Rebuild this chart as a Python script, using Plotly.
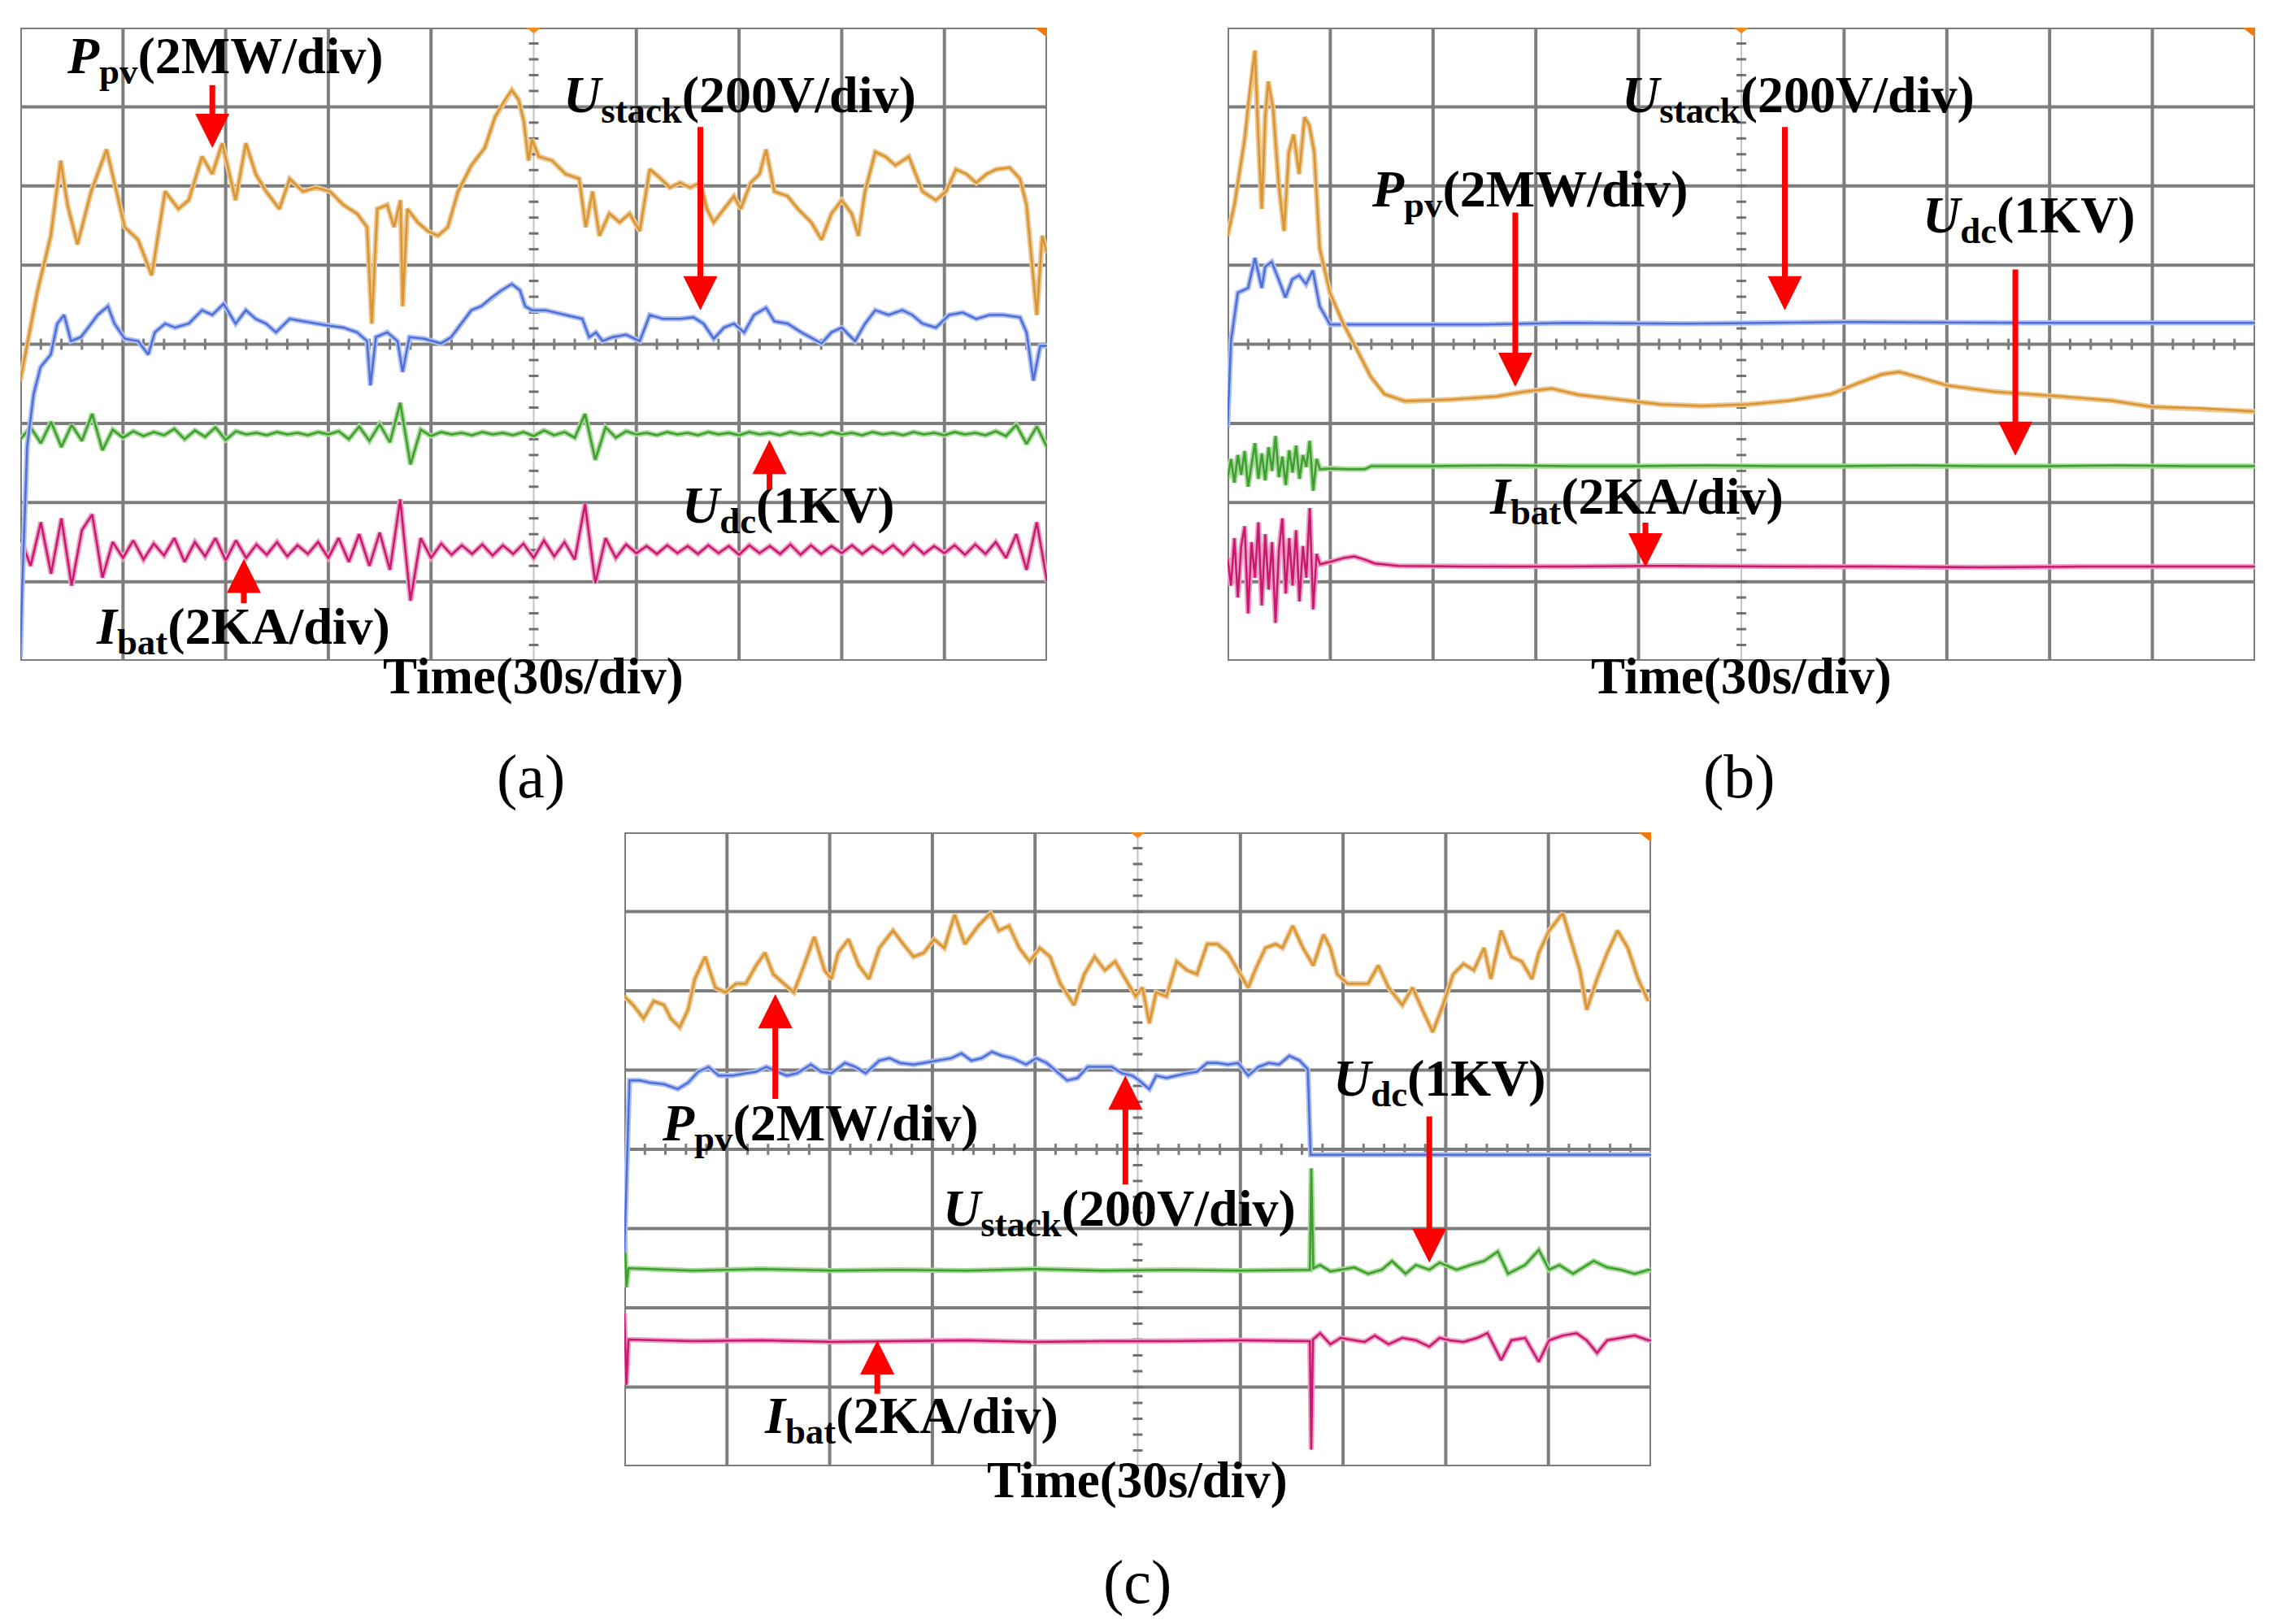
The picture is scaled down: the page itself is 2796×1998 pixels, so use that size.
import plotly.graph_objects as go

# ---------------- data (time in s, value in screen divisions) ----------------
# Panel (a)
a_ppv_t = [0,4.9,8.9,11.8,13.8,16.7,20.7,25.2,27.5,30.5,34.4,38.4,42.3,46.2,49.2,53.1,56.1,59.0,62.9,65.9,
           68.8,71.8,75.7,78.7,82.6,86.5,90.5,94.4,98.4,101.3,102.7,104.3,107.2,109.2,111.1,111.7,113.1,116.1,119.0,122.0,
           124.9,127.9,131.8,135.7,138.7,141.6,143.6,145.6,147.1,148.5,149.5,151.5,155.4,159.3,163.3,165.2,167.2,169.2,172.1,175.1,
           178.0,181.0,183.9,186.9,189.8,192.8,195.7,198.7,200.6,202.6,205.6,208.5,210.5,213.4,216.0,217.9,220.3,224.2,227.2,231.1,
           234.1,237.0,240.0,242.9,244.9,246.8,249.8,252.8,255.7,259.6,263.6,267.5,270.5,273.4,276.4,279.3,282.3,285.2,289.1,292.1,
           294.0,296.0,297.0,298.6,300]
a_ppv_v = [3.54,4.65,5.37,6.32,5.76,5.26,5.93,6.46,6.04,5.48,5.32,4.87,5.93,5.71,5.82,6.37,6.15,6.54,5.82,6.54,
           6.15,5.93,5.71,6.09,5.93,5.98,5.93,5.76,5.65,5.48,4.26,5.71,5.76,5.48,5.82,4.48,5.71,5.54,5.43,5.37,
           5.48,5.93,6.26,6.48,6.87,7.09,7.21,7.09,6.82,6.32,6.59,6.37,6.32,6.15,6.09,5.48,5.93,5.37,5.65,5.54,
           5.65,5.43,6.21,6.10,5.98,6.04,5.98,6.04,5.71,5.54,5.71,5.87,5.71,6.04,6.15,6.46,5.93,5.87,5.71,5.54,
           5.32,5.65,5.82,5.65,5.37,5.93,6.43,6.37,6.26,6.37,5.93,5.82,5.93,6.21,6.15,6.04,6.15,6.21,6.23,6.09,
           5.76,4.82,4.37,5.37,5.15]

a_ust_t = [0,0.5,2.0,3.9,5.9,8.9,10.8,12.8,14.8,17.7,20.7,22.6,25.6,27.5,30.5,34.4,37.4,39.3,42.3,45.2,
           49.2,53.1,56.1,59.4,62.9,65.9,68.8,71.8,74.7,78.7,82.6,86.5,90.5,94.4,98.4,101.3,102.3,103.9,107.2,110.2,
           111.7,113.7,118.0,122.9,125.9,128.8,131.8,134.7,137.7,140.6,143.6,146.0,147.5,149.5,153.4,159.3,164.2,166.2,168.2,170.1,
           173.1,177.0,181.0,183.9,187.8,192.8,196.7,199.6,202.6,205.6,208.5,211.5,214.4,217.9,220.3,224.2,228.2,234.1,237.0,240.0,
           243.9,246.8,249.8,253.7,257.7,260.6,263.6,267.5,271.4,275.4,279.3,283.2,287.2,292.1,294.0,296.0,298.0,300]
a_ust_v = [0.04,0.87,2.71,3.37,3.71,3.87,4.26,4.37,4.04,4.09,4.26,4.37,4.48,4.26,4.07,4.04,3.87,4.15,4.26,4.21,
           4.26,4.43,4.37,4.51,4.26,4.43,4.32,4.26,4.15,4.32,4.29,4.26,4.23,4.21,4.15,4.04,3.48,4.09,4.15,4.04,
           3.65,4.09,4.07,4.01,4.09,4.26,4.43,4.48,4.59,4.68,4.76,4.68,4.48,4.43,4.43,4.37,4.32,4.09,4.15,4.04,
           4.09,4.12,4.04,4.37,4.32,4.32,4.34,4.26,4.07,4.21,4.26,4.15,4.37,4.46,4.29,4.26,4.15,4.01,4.15,4.21,
           4.04,4.26,4.43,4.37,4.43,4.37,4.26,4.21,4.37,4.40,4.32,4.37,4.37,4.34,4.15,3.54,3.98,3.98]

a_noise_t = [0,3,6,9,12,15,18,21,24,27,30,33,36,39,42,45,48,51,54,57,
             60,63,66,69,72,75,78,81,84,87,90,93,96,99,102,105,108,111,114,117,
             120,123,126,129,132,135,138,141,144,147,150,153,156,159,162,165,168,171,174,177,
             180,183,186,189,192,195,198,201,204,207,210,213,216,219,222,225,228,231,234,237,
             240,243,246,249,252,255,258,261,264,267,270,273,276,279,282,285,288,291,294,297,300]
a_udc_v = [2.80,2.95,2.75,3.02,2.70,2.98,2.78,3.12,2.66,2.92,2.82,2.90,2.84,2.89,2.85,2.93,2.80,2.91,2.83,2.95,
           2.79,2.90,2.86,2.88,2.85,2.89,2.86,2.88,2.85,2.89,2.86,2.90,2.80,2.96,2.78,2.99,2.76,3.26,2.48,2.92,
           2.84,2.89,2.86,2.88,2.85,2.89,2.86,2.88,2.85,2.89,2.84,2.91,2.85,2.89,2.82,3.12,2.54,2.95,2.82,2.90,
           2.86,2.88,2.85,2.89,2.86,2.88,2.85,2.89,2.86,2.88,2.85,2.89,2.86,2.88,2.85,2.89,2.86,2.88,2.85,2.89,
           2.86,2.88,2.85,2.89,2.86,2.88,2.85,2.89,2.86,2.88,2.85,2.89,2.86,2.88,2.85,2.90,2.84,2.98,2.74,2.96,2.70]
a_ibat_v = [1.55,1.20,1.75,1.10,1.80,0.95,1.65,1.85,1.05,1.50,1.30,1.52,1.28,1.48,1.33,1.55,1.25,1.50,1.32,1.55,
            1.27,1.52,1.30,1.47,1.34,1.50,1.32,1.46,1.35,1.50,1.30,1.55,1.25,1.60,1.20,1.62,1.15,2.04,0.76,1.55,
            1.30,1.48,1.34,1.46,1.35,1.47,1.33,1.46,1.35,1.48,1.30,1.52,1.32,1.50,1.28,1.98,0.98,1.55,1.30,1.47,
            1.36,1.45,1.35,1.46,1.36,1.45,1.35,1.46,1.36,1.45,1.34,1.46,1.36,1.45,1.35,1.47,1.34,1.46,1.35,1.45,
            1.36,1.46,1.35,1.45,1.36,1.46,1.34,1.47,1.35,1.45,1.36,1.46,1.34,1.47,1.35,1.50,1.30,1.60,1.15,1.75,1.00]

# Panel (b)
b_ppv_t = [0,2.0,5.0,6.6,8.0,9.0,10.0,11.0,11.9,13.3,14.9,16.5,17.9,19.3,20.9,22.5,23.9,25.3,26.9,29.9,
           33.8,37.8,41.8,45.8,51.8,64.7,78.6,86.6,94.6,102.5,114.5,126.4,138.4,152.3,164.3,176.2,184.2,191.1,196.1,203.1,
           210.0,224.0,243.9,257.8,269.8,283.7,300]
b_ppv_v = [5.37,5.76,6.59,7.26,7.71,6.59,5.71,6.87,7.32,6.98,6.04,5.43,6.43,6.65,6.15,6.87,6.76,6.43,5.21,4.65,
           4.26,3.93,3.59,3.37,3.28,3.30,3.34,3.40,3.44,3.36,3.30,3.24,3.22,3.24,3.29,3.37,3.51,3.62,3.65,3.57,
           3.48,3.40,3.34,3.29,3.21,3.19,3.15]
b_ust_t = [0,1.0,3.0,6.0,8.0,10.0,11.0,12.9,14.9,16.9,18.9,20.9,22.9,24.9,26.9,29.9,74.7,98.6,134.4,180.2,233.9,300]
b_ust_v = [2.95,4.04,4.65,4.71,5.09,4.71,4.98,5.04,4.82,4.59,4.82,4.87,4.76,4.93,4.48,4.25,4.25,4.27,4.26,4.28,4.27,4.27]
b_udc_t = [0,1,2,3,4,5,6,7,8,9,10,11,12,13,14,15,16,17,18,19,20,21,22,23,24,25,26,27,30,35,40,42,
           60,80,100,120,140,160,180,200,220,240,260,280,300]
b_udc_v = [2.30,2.55,2.25,2.60,2.35,2.65,2.20,2.50,2.75,2.30,2.62,2.28,2.70,2.40,2.84,2.32,2.58,2.22,2.66,2.38,
           2.72,2.30,2.60,2.45,2.78,2.15,2.55,2.42,2.43,2.42,2.42,2.46,
           2.46,2.47,2.46,2.46,2.47,2.46,2.46,2.47,2.46,2.46,2.47,2.46,2.46]
b_ibat_t = [0,1,2,3,4,5,6,7,8,9,10,11,12,13,14,15,16,17,18,19,20,21,22,23,24,25,26,27,
            30,34,37,40,43,50,70,100,130,160,190,220,250,280,300]
b_ibat_v = [1.30,0.95,1.55,0.80,1.45,1.70,0.60,1.50,1.05,1.75,0.70,1.60,0.90,1.50,0.48,1.40,1.80,0.85,1.55,0.95,
            1.65,0.75,1.45,1.05,1.93,0.65,1.35,1.22,
            1.25,1.30,1.32,1.28,1.23,1.20,1.19,1.19,1.20,1.19,1.19,1.18,1.19,1.19,1.19]

# Panel (c)
c_ppv_t = [0,2.6,5.6,8.6,11.6,13.6,16.2,18.6,20.6,23.6,26.6,29.6,32.6,35.5,38.5,41.1,43.5,46.5,49.5,52.5,
           55.5,58.5,60.5,62.5,65.5,68.5,71.5,74.5,78.5,81.5,84.5,87.5,90.5,93.5,96.5,99.5,103.4,107.0,109.4,112.4,
           115.4,118.4,121.4,124.4,127.4,131.4,134.4,137.4,140.4,143.4,146.4,149.4,151.4,153.4,155.4,158.4,161.4,164.4,167.3,170.3,
           173.3,176.3,179.3,182.3,184.3,187.3,190.3,192.3,195.3,198.3,201.3,204.3,206.3,208.3,211.3,214.3,217.3,220.3,223.3,227.3,
           230.3,233.2,236.2,239.2,242.2,245.2,248.2,251.2,253.2,256.2,259.2,262.2,265.2,267.2,270.2,274.2,277.2,279.2,281.2,284.2,
           287.2,290.2,293.2,296.2,299.2]
c_ppv_v = [5.93,5.82,5.65,5.87,5.82,5.65,5.54,5.76,6.15,6.43,6.04,5.98,6.09,6.09,6.32,6.48,6.21,6.09,5.98,6.32,
           6.68,6.26,6.15,6.48,6.65,6.32,6.15,6.54,6.76,6.59,6.43,6.48,6.65,6.54,6.96,6.59,6.82,6.98,6.76,6.82,
           6.54,6.37,6.54,6.43,6.09,5.82,6.21,6.43,6.26,6.37,6.15,5.93,6.04,5.59,5.98,5.93,6.37,6.26,6.21,6.59,
           6.59,6.48,6.26,6.04,6.26,6.54,6.59,6.54,6.82,6.54,6.32,6.71,6.54,6.21,6.09,6.09,6.09,6.32,6.04,5.82,
           6.04,5.76,5.48,5.82,6.21,6.34,6.26,6.54,6.15,6.76,6.43,6.37,6.15,6.48,6.76,6.98,6.54,6.26,5.76,6.15,
           6.48,6.76,6.54,6.15,5.87]
c_ust_t = [0,1.5,2.0,4.6,7.6,11.6,15.6,18.6,21.6,24.6,27.6,31.6,35.5,38.5,41.5,44.5,47.5,50.5,54.5,57.5,
           60.5,64.5,67.5,70.5,74.5,77.5,80.5,84.5,87.5,91.5,95.5,98.5,101.4,104.4,107.4,110.4,113.4,117.4,120.4,123.4,
           126.4,129.4,132.4,135.4,139.4,142.4,145.4,148.4,150.4,153.4,155.4,158.4,161.4,164.4,167.3,170.3,173.3,176.3,179.3,182.3,
           185.3,188.3,191.3,194.3,197.3,199.7,200.5,300]
c_ust_v = [2.70,4.87,4.87,4.87,4.84,4.82,4.76,4.84,4.98,5.04,4.93,4.93,4.96,4.98,5.04,4.98,4.93,4.96,5.07,4.98,
           4.96,5.09,5.04,4.96,5.12,5.15,5.09,5.07,5.09,5.12,5.15,5.21,5.12,5.15,5.23,5.18,5.15,5.07,5.15,5.09,
           4.98,4.87,4.90,5.04,5.04,5.04,4.96,4.93,4.87,4.76,4.93,4.90,4.93,4.96,4.98,5.09,5.09,5.07,5.09,4.93,
           5.04,5.09,5.07,5.18,5.12,5.01,3.93,3.93]
c_udc_t = [0,0.6,1.2,20,40,60,80,100,120,140,160,180,200.3,200.7,201.3,203.3,206.3,209.3,213.3,217.3,
           221.3,224.3,228.3,231.3,235.2,238.2,243.2,247.2,251.2,255.2,258.2,263.2,267.2,270.2,273.2,277.2,283.2,287.2,291.2,295.2,
           299.2,300]
c_udc_v = [3.13,2.26,2.50,2.47,2.49,2.47,2.48,2.47,2.49,2.47,2.48,2.47,2.48,3.76,2.50,2.54,2.46,2.48,2.51,2.43,
           2.48,2.59,2.43,2.54,2.48,2.57,2.48,2.54,2.59,2.71,2.43,2.54,2.73,2.48,2.54,2.43,2.59,2.51,2.48,2.43,
           2.48,2.48]
c_ibat_t = [0,0.6,1.2,20,40,60,80,100,120,140,160,180,200.3,200.7,201.2,203.3,206.3,209.3,213.3,216.3,
            219.3,223.3,227.3,231.3,235.2,238.2,241.2,245.2,249.2,252.2,256.2,259.2,263.2,267.2,270.2,274.2,278.2,281.2,284.2,287.2,
            291.2,295.2,299.2,300]
c_ibat_v = [1.93,1.03,1.60,1.58,1.59,1.57,1.58,1.59,1.57,1.58,1.58,1.59,1.58,0.21,1.60,1.68,1.54,1.62,1.59,1.57,
            1.65,1.54,1.62,1.59,1.51,1.62,1.59,1.57,1.62,1.68,1.34,1.59,1.62,1.32,1.59,1.65,1.68,1.59,1.43,1.59,
            1.62,1.65,1.59,1.59]

# ---------------- styling ----------------
W, H = 2796, 1998
FONT = "Liberation Serif, Times New Roman, serif"
ORANGE = ("#EBC692", "#D9952F")
BLUE = ("#AFC0F0", "#4F6FD8")
GREEN = ("#A6D89A", "#3E9E2E")
MAGENTA = ("#EBA0C4", "#C8186F")
GRID = "#7d7d7d"

# panel boxes in pixels: left, right, top, bottom
boxes = {
    "a": (17, 1280, 26, 805),
    "b": (1502, 2766, 26, 805),
    "c": (760, 2023, 1016, 1796),
}
axis_ids = {"a": ("x", "y"), "b": ("x2", "y2"), "c": ("x3", "y3")}

fig = go.Figure()

def add_line(t, v, col, xa, ya, hw=6.5, cw=2.5):
    fig.add_trace(go.Scatter(x=t, y=v, mode="lines", line=dict(color=col[0], width=hw),
                             xaxis=xa, yaxis=ya, hoverinfo="skip", showlegend=False))
    fig.add_trace(go.Scatter(x=t, y=v, mode="lines", line=dict(color=col[1], width=cw),
                             xaxis=xa, yaxis=ya, hoverinfo="skip", showlegend=False))

xa, ya = axis_ids["a"]
add_line(a_noise_t, a_ibat_v, MAGENTA, xa, ya)
add_line(a_noise_t, a_udc_v, GREEN, xa, ya)
add_line(a_ust_t, a_ust_v, BLUE, xa, ya)
add_line(a_ppv_t, a_ppv_v, ORANGE, xa, ya)

xa, ya = axis_ids["b"]
add_line(b_ibat_t, b_ibat_v, MAGENTA, xa, ya)
add_line(b_udc_t, b_udc_v, GREEN, xa, ya)
add_line(b_ust_t, b_ust_v, BLUE, xa, ya)
add_line(b_ppv_t, b_ppv_v, ORANGE, xa, ya)

xa, ya = axis_ids["c"]
add_line(c_ibat_t, c_ibat_v, MAGENTA, xa, ya)
add_line(c_udc_t, c_udc_v, GREEN, xa, ya)
add_line(c_ust_t, c_ust_v, BLUE, xa, ya)
add_line(c_ppv_t, c_ppv_v, ORANGE, xa, ya)

layout = dict(width=W, height=H, margin=dict(l=0, r=0, t=0, b=0),
              paper_bgcolor="white", plot_bgcolor="white", showlegend=False)
shapes = []
for key, (l, r, t, b) in boxes.items():
    xid, yid = axis_ids[key]
    xname = "xaxis" + xid[1:]
    yname = "yaxis" + yid[1:]
    layout[xname] = dict(domain=[l / W, r / W], range=[0, 300], anchor=yid, visible=False, fixedrange=True)
    layout[yname] = dict(domain=[1 - b / H, 1 - t / H], range=[0, 8], anchor=xid, visible=False, fixedrange=True)
    for i in range(11):
        xv = 30 * i
        if i == 5:
            shapes.append(dict(type="line", xref=xid, yref=yid, x0=xv, x1=xv, y0=0, y1=8,
                               line=dict(color="#c4c4c4", width=2), layer="below"))
        else:
            shapes.append(dict(type="line", xref=xid, yref=yid, x0=xv, x1=xv, y0=0, y1=8,
                               line=dict(color=GRID, width=4), layer="below"))
    for j in range(9):
        shapes.append(dict(type="line", xref=xid, yref=yid, x0=0, x1=300, y0=j, y1=j,
                           line=dict(color=GRID, width=4), layer="below"))
    for k in range(1, 50):
        xv = 6 * k
        shapes.append(dict(type="line", xref=xid, yref=yid, x0=xv, x1=xv, y0=3.93, y1=4.07,
                           line=dict(color=GRID, width=3), layer="below"))
    for k in range(1, 40):
        yv = 0.2 * k
        shapes.append(dict(type="line", xref=xid, yref=yid, x0=148.6, x1=151.4, y0=yv, y1=yv,
                           line=dict(color="#6f6f6f", width=3), layer="below"))
    shapes.append(dict(type="path", xref=xid, yref=yid, path="M 148,8 L 152,8 L 150,7.93 Z",
                       fillcolor="#F28C1E", line=dict(color="#F28C1E", width=1)))
    shapes.append(dict(type="path", xref=xid, yref=yid, path="M 296.5,8 L 300,8 L 300,7.88 Z",
                       fillcolor="#F07A10", line=dict(color="#F07A10", width=1)))

layout["shapes"] = shapes
fig.update_layout(**layout)

LBL = 64
def label(text, t, v, xid, yid):
    return dict(text=text, x=t, y=v, xref=xid, yref=yid, xanchor="center", yanchor="middle",
                showarrow=False, font=dict(family=FONT, size=LBL, color="black"))

def arrow(tip_t, tip_v, tail_t, tail_v, xid, yid):
    return dict(text="", x=tip_t, y=tip_v, ax=tail_t, ay=tail_v, xref=xid, yref=yid,
                axref=xid, ayref=yid, showarrow=True, arrowhead=2, arrowsize=1.2,
                arrowwidth=7, arrowcolor="#FF0000", standoff=0)

PPV = "<b><i>P</i><sub>pv</sub>(2MW/div)</b>"
UST = "<b><i>U</i><sub>stack</sub>(200V/div)</b>"
UDC = "<b><i>U</i><sub>dc</sub>(1KV)</b>"
IBT = "<b><i>I</i><sub>bat</sub>(2KA/div)</b>"

ann = []
# panel a
ann += [label(PPV, 59.8, 7.60, "x", "y"), arrow(56.1, 6.48, 56.1, 7.29, "x", "y"),
        label(UST, 210.3, 7.11, "x", "y"), arrow(198.7, 4.43, 198.7, 6.76, "x", "y"),
        label(UDC, 224.5, 1.92, "x", "y"), arrow(218.9, 2.79, 218.9, 2.15, "x", "y"),
        label(IBT, 65.0, 0.39, "x", "y"), arrow(65.3, 1.29, 65.3, 0.71, "x", "y")]
# panel b
ann += [label(UST, 166.6, 7.11, "x2", "y2"), arrow(162.7, 4.43, 162.7, 6.76, "x2", "y2"),
        label(PPV, 88.3, 5.92, "x2", "y2"), arrow(84.0, 3.46, 84.0, 5.68, "x2", "y2"),
        label(UDC, 234.0, 5.59, "x2", "y2"), arrow(230.0, 2.59, 230.0, 4.96, "x2", "y2"),
        label(IBT, 119.4, 2.03, "x2", "y2"), arrow(122.0, 1.18, 122.0, 1.76, "x2", "y2")]
# panel c
ann += [label(PPV, 57.2, 4.29, "x3", "y3"), arrow(44.1, 5.96, 44.1, 4.62, "x3", "y3"),
        label(UST, 144.7, 3.21, "x3", "y3"), arrow(146.4, 4.93, 146.4, 3.54, "x3", "y3"),
        label(UDC, 238.2, 4.85, "x3", "y3"), arrow(235.2, 2.57, 235.2, 4.43, "x3", "y3"),
        label(IBT, 83.8, 0.60, "x3", "y3"), arrow(73.9, 1.59, 73.9, 0.90, "x3", "y3")]

for cx, cy in [(648, 824), (2134, 824), (1391, 1813)]:
    ann.append(dict(text="<b>Time(30s/div)</b>", x=cx / W, y=1 - cy / H, xref="paper", yref="paper",
                    xanchor="center", yanchor="middle", showarrow=False,
                    font=dict(family=FONT, size=63, color="black")))
for txt, cx, cy in [("(a)", 645, 948), ("(b)", 2131, 948), ("(c)", 1391, 1938)]:
    ann.append(dict(text=txt, x=cx / W, y=1 - cy / H, xref="paper", yref="paper",
                    xanchor="center", yanchor="middle", showarrow=False,
                    font=dict(family=FONT, size=76, color="black")))

fig.update_layout(annotations=ann)
fig.write_html("out.html")
